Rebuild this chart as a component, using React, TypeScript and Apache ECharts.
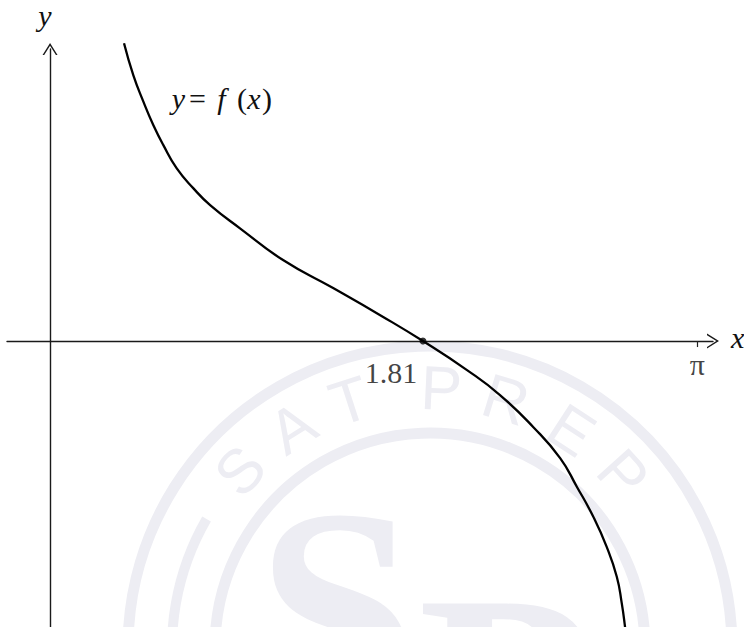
import React, { useEffect, useRef } from 'react';
import * as echarts from 'echarts';

// curve y = f(x) (x in radians, y in same unit scale)
const curveX = [0.359, 0.404, 0.453, 0.501, 0.55, 0.615, 0.696, 0.777, 0.922, 1.131, 1.374, 1.617, 1.81, 2.024, 2.184, 2.345, 2.476, 2.557, 2.637, 2.702, 2.751, 2.775, 2.791, 2.801];
const curveY = [1.445, 1.291, 1.162, 1.049, 0.951, 0.838, 0.741, 0.66, 0.547, 0.393, 0.257, 0.117, 0, -0.141, -0.262, -0.417, -0.568, -0.707, -0.853, -0.999, -1.144, -1.272, -1.387, -1.476];

const rootX = 1.81;
const rootLabel = '1.81';
const piTick = Math.PI;
const piLabel = 'π';

const xMin = -0.209;
const xMax = 3.218;
const yMin = -1.388;
const yMax = 1.4175;

const sealLetters = ['S', 'A', 'T', 'P', 'R', 'E', 'P'];
const sealAngles = [137, 122, 108, 87.5, 73, 57, 42];

// pieces of the "y = f(x)" annotation: [text, italic]
const fnLabelParts: [string, boolean][] = [['y', true], ['=', false], ['f', true], ['(', false], ['x', true], [')', false]];
const fnLabelCenters = [178.5, 197.5, 221.5, 242, 254, 267];

export default function App() {
  const ref = useRef<HTMLDivElement>(null);

  useEffect(() => {
    const chart = echarts.init(ref.current as HTMLDivElement, null, { renderer: 'svg' });
    const chevron = 'path://M0,12 L7.5,0 L15,12 L13.35,12 L7.5,2.65 L1.65,12 Z';
    const wm = '#ededf3';
    const cx = 430;
    const cy = 648;
    const serifName = '"Liberation Serif", "Times New Roman", serif';

    const letters = sealLetters.map((ch, i) => {
      const a = (sealAngles[i] * Math.PI) / 180;
      return {
        type: 'text',
        x: cx + 260 * Math.cos(a),
        y: cy - 260 * Math.sin(a),
        rotation: a - Math.PI / 2,
        z: -10,
        silent: true,
        style: {
          text: ch,
          fill: wm,
          font: '62px "Liberation Sans", Arial, sans-serif',
          align: 'center',
          verticalAlign: 'middle',
        },
      };
    });

    const fnParts = fnLabelParts.map(([t, it], i) => ({
      type: 'text',
      z: 10,
      x: fnLabelCenters[i],
      y: 98.5,
      style: {
        text: t,
        fill: '#111',
        font: (it ? 'italic ' : '') + '30px ' + serifName,
        align: 'center',
        verticalAlign: 'middle',
      },
    }));

    const data = curveX.map((x, i) => [x, curveY[i]]);

    chart.setOption({
      animation: false,
      backgroundColor: '#ffffff',
      grid: { left: 7, right: 31, top: 49, bottom: 0, containLabel: false, outerBoundsMode: 'none' },
      xAxis: {
        type: 'value',
        min: xMin,
        max: xMax,
        splitLine: { show: false },
        axisLine: {
          show: true,
          onZero: true,
          symbol: ['none', chevron],
          symbolSize: [15, 12],
          lineStyle: { color: '#1a1a1a', width: 1.4 },
        },
        axisTick: {
          show: true,
          customValues: [piTick],
          length: 6,
          lineStyle: { color: '#222', width: 1.2 },
        },
        axisLabel: { show: false },
      },
      yAxis: {
        type: 'value',
        min: yMin,
        max: yMax,
        splitLine: { show: false },
        axisLine: {
          show: true,
          onZero: true,
          symbol: ['none', chevron],
          symbolSize: [15, 12],
          lineStyle: { color: '#1a1a1a', width: 1.4 },
        },
        axisTick: { show: false },
        axisLabel: { show: false },
      },
      graphic: [
        { type: 'circle', z: -10, silent: true, shape: { cx, cy, r: 302 }, style: { fill: 'none', stroke: wm, lineWidth: 11 } },
        { type: 'circle', z: -10, silent: true, shape: { cx, cy, r: 215 }, style: { fill: 'none', stroke: wm, lineWidth: 11 } },
        { type: 'arc', z: -10, silent: true, shape: { cx, cy, r: 258, startAngle: (-190 * Math.PI) / 180, endAngle: (-150 * Math.PI) / 180 }, style: { fill: 'none', stroke: wm, lineWidth: 10 } },
        ...letters,
        { type: 'text', z: -10, silent: true, x: 337, y: 610, style: { text: 'S', fill: wm, font: 'bold 290px ' + serifName, align: 'center', verticalAlign: 'middle' } },
        { type: 'text', z: -10, silent: true, x: 418, y: 696, style: { text: 'P', fill: wm, font: 'bold 290px ' + serifName, align: 'left', verticalAlign: 'middle' } },
        { type: 'text', z: 10, x: 45, y: 15.5, style: { text: 'y', fill: '#111', font: 'italic 30px ' + serifName, align: 'center', verticalAlign: 'middle' } },
        { type: 'text', z: 10, x: 731, y: 337, style: { text: 'x', fill: '#111', font: 'italic 30px ' + serifName, align: 'left', verticalAlign: 'middle' } },
        ...fnParts,
      ],
      series: [
        {
          type: 'line',
          data,
          showSymbol: false,
          smooth: 0.5,
          clip: false,
          lineStyle: { color: '#000', width: 2.3 },
          z: 3,
        },
        {
          type: 'scatter',
          data: [[rootX, 0]],
          symbolSize: 7,
          clip: false,
          itemStyle: { color: '#000' },
          z: 4,
          label: {
            show: true,
            formatter: rootLabel,
            position: 'inside',
            offset: [-32, 31],
            color: '#111',
            fontSize: 30,
            fontFamily: serifName,
          },
        },
        {
          type: 'scatter',
          data: [[piTick, 0]],
          symbol: 'circle',
          symbolSize: 1,
          clip: false,
          silent: true,
          itemStyle: { color: 'rgba(0,0,0,0)' },
          z: 4,
          label: {
            show: true,
            formatter: piLabel,
            position: 'inside',
            offset: [0, 23],
            color: '#111',
            fontSize: 30,
            fontFamily: serifName,
          },
        },
      ],
    });

    return () => {
      chart.dispose();
    };
  }, []);

  return (
    <div
      ref={ref}
      style={{ position: 'absolute', left: 0, top: 0, width: 744, height: 627 }}
    />
  );
}
